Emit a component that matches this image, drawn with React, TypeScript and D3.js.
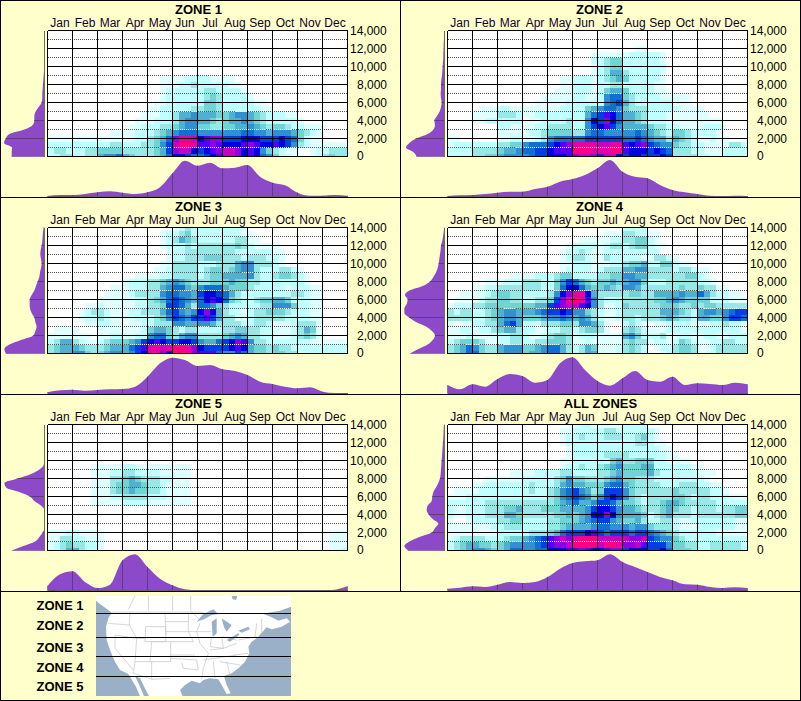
import React from "react";
import * as d3 from "d3";

const months = ["Jan","Feb","Mar","Apr","May","Jun","Jul","Aug","Sep","Oct","Nov","Dec"];
const elevationTicks = [0,2000,4000,6000,8000,10000,12000,14000];
const dottedTicks = [1000,3000,5000,7000,9000,11000,13000];
const zoneNames = ["ZONE 1","ZONE 2","ZONE 3","ZONE 4","ZONE 5"];
const levelColors = ["#ffffff","#e0ffff","#bfffff","#98e8e8","#70d4d4","#50b0d0","#3090d0","#1070d0","#0040e0","#0000e0","#5000f0","#9000e0","#c800c0","#e800a0","#ff0080"];
const E = "";

// Rows run from the top of the plot (14,000) to the bottom (0); 4 cells per month.
const heat1 = [E,E,E,E,E,E,E,E,
"0000 0000 0000 0000 0011 1122 2211 1100 0000 0000 0000 0000",
"0000 0000 0000 0000 0011 1223 2222 2110 0000 0000 0000 0000",
"0000 0000 0000 0000 0012 2222 2332 2221 0000 0000 0000 0000",
"0000 0000 0000 0000 0012 2222 2343 2222 1000 0000 0000 0000",
"0000 0000 0000 0000 0112 2222 2443 2222 2110 0000 0000 0000",
"0000 0000 0000 0000 1122 2223 3443 2222 2211 0000 0000 0000",
"0000 0000 0000 0001 1122 3556 5554 4566 5432 2211 0000 0000",
"0000 0000 0000 0011 1222 3566 5543 4556 5432 2222 1000 0000",
"0000 0000 0000 0112 2233 4566 4433 4455 6543 4432 2111 0000",
"0000 0000 0011 1122 2345 6777 6666 6667 7665 6665 4321 0000",
"1111 1111 1111 1122 3457 bddc 9abb 8889 9988 8987 4211 0000",
"2222 2222 2233 2223 3468 ceed aaba 999a ba99 a986 3211 1111",
"2332 2233 4444 3333 3458 bcc9 89ab ccb9 a964 3211 0012 2333",
"2233 2233 5667 5433 3457 9987 789a ccb9 a976 4221 0012 3433"];

const heat2 = [E,E,E,
"0000 0000 0000 0000 0000 0000 0000 0011 0000 0000 0000 0000",
"0000 0000 0000 0000 0000 0001 1111 1222 2210 0000 0000 0000",
"0000 0000 0000 0000 0000 0002 2344 2222 2210 0000 0000 0000",
"0000 0000 0000 0000 0000 0001 2344 2222 2220 0000 0000 0000",
"0000 0000 0000 0000 0000 0001 2355 3222 2210 0000 0000 0000",
"0000 0000 0000 0000 0011 2221 2345 4222 2210 0000 0000 0000",
"0000 0000 0000 0000 0011 2221 2233 2222 2110 0000 0000 0000",
"0000 0000 0000 0000 0111 2221 2455 4222 2110 0000 0000 0000",
"0000 0000 0000 0001 1111 2211 2677 4322 2211 1110 0000 0000",
"0000 0000 0000 0011 1112 2222 2678 5322 2222 1110 0000 0000",
"0000 0111 2211 1111 1122 2245 6776 4333 2222 2111 1000 0000",
"0000 1111 3332 1122 2222 2257 8a97 5543 2221 1111 1100 0000",
"0000 1122 2222 0112 2223 2269 8b97 5543 2221 1111 1111 0000",
"0000 0000 2211 1122 3333 2268 9a86 5555 4332 2111 1222 0000",
"0000 0000 1111 1223 4444 3367 7666 6676 5432 4432 2221 0000",
"1100 0000 1122 1123 6777 7788 8888 7787 6553 5432 1121 1000",
"1222 2222 3344 6777 89ab dddd ccdd a9ab 8766 4332 2111 1332",
"2222 3333 4556 7788 9aaa eeed ddee a999 8987 3332 2111 2222",
"2222 3344 5666 6788 999a bccb acc9 8998 8898 3333 2211 2222"];

const heat3 = [
"0000 0000 0000 0000 0000 1232 2222 2221 0000 0000 0000 0000",
"0000 0000 0000 0000 0012 2342 2222 2221 1000 0000 0000 0000",
"0000 0000 0000 0000 0012 3543 2222 2233 1100 0000 0000 0000",
"0000 0000 0000 0000 0012 2232 3333 3343 2111 1000 0000 0000",
"0000 0000 0000 0000 0001 2233 3333 3322 2222 1100 0000 0000",
"0000 0000 0000 0000 0001 2233 3444 3332 3332 2100 0000 0000",
"0000 0000 0000 0000 0011 3333 2223 3356 6333 2100 0000 0000",
"0000 0000 0000 0000 0112 3333 2344 3456 6322 2332 1000 0000",
"0000 0000 0000 0011 1122 3333 2344 5555 6322 3443 2100 0000",
"0000 0000 0000 1222 3345 6543 3344 4544 3322 2222 2100 0000",
"0000 0000 0011 1222 3356 7754 6777 5444 3222 2212 2211 0000",
"0000 0000 0111 1233 3367 7665 8998 7532 2222 2223 3211 0000",
"0000 0000 1111 1122 3457 8765 79a9 7432 2344 5542 2211 0000",
"0000 0011 2111 1122 3348 8753 7764 3222 2233 6664 2211 0000",
"0000 0123 3211 1223 3357 8656 9b95 3221 2334 4432 2211 0000",
"0000 0122 3211 1122 2346 8768 8a85 3311 2333 3322 2211 0000",
"0000 0011 2211 0112 2333 6655 6653 3332 2332 1112 3331 0000",
"0111 1000 1111 1112 4554 3233 2222 3344 3322 1112 3541 0000",
"1111 1110 1122 1122 6774 3566 3333 4565 3322 1112 3431 0000",
"2355 3211 2344 4568 9a98 8998 6557 89ba 6332 2222 2211 1111",
"3455 5433 3455 578a ddcd eedb 9888 89a9 5443 4332 2222 2222",
"3455 6643 4566 5689 ddb9 eeeb aaa7 6687 5443 4433 1222 2222"];

const heat4 = [
"0000 0000 0000 0000 0000 0000 0000 2222 0000 0000 0000 0000",
"0000 0000 0000 0000 0000 0000 0111 3322 1100 0000 0000 0000",
"0000 0000 0000 0000 0000 0111 1122 3344 2100 0000 0000 0000",
"0000 0000 0000 0000 0001 2222 1233 2344 2110 0000 0000 0000",
"0000 0000 0000 0000 0012 2321 1222 2222 2200 0000 0000 0000",
"0000 0000 0000 0000 0012 3321 1322 2221 1332 1000 0000 0000",
"0000 0000 0000 0000 0011 2221 1122 3445 2244 2110 0000 0000",
"0000 0000 0000 0000 0012 2221 2333 5566 3333 2332 1100 0000",
"0000 0000 0011 1122 2344 2222 3344 6655 3333 3344 2100 0000",
"0000 0011 1222 3332 2468 7543 4454 5664 2223 3333 2210 0000",
"0000 1122 3333 3332 2479 9754 4543 6653 3333 3433 4331 1000",
"0011 1123 4433 2222 369b dd95 3333 3443 3555 5655 7532 2110",
"0111 1233 4433 2233 48bd eda6 3222 3333 3445 6544 4422 2111",
"1222 3344 4444 4455 8abc ca96 3112 4333 3344 4334 3443 3333",
"3233 2234 5665 5567 8898 6643 2112 3333 3355 5432 5665 6788",
"3333 2234 5665 4445 6676 5653 2112 3323 3345 4332 5544 6887",
"1011 2233 5785 2213 3344 3665 3100 2321 0112 2221 1122 3221",
"1122 1223 4553 2211 2233 2344 3100 3432 1112 2222 2222 2221",
"1112 1111 2233 2112 3443 1222 1111 5642 2231 1221 1221 1222",
"2344 4311 2233 2233 4443 1121 1111 3433 1221 2432 1122 3322",
"3457 6433 5666 4456 7753 2354 1112 3432 0122 3443 1123 3333",
"3457 7433 5666 4556 7753 2355 1112 3432 0012 3443 1123 3333"];

const heat5 = [E,E,E,E,E,E,E,
"0000 0001 1111 2211 1111 1110 0000 0000 0000 0000 0000 0000",
"0000 0001 1122 3322 2211 1110 0000 0000 0000 0000 0000 0000",
"0000 0001 1133 4543 3322 1110 0000 0000 0000 0000 0000 0000",
"0000 0001 1134 4554 3321 1110 0000 0000 0000 0000 0000 0000",
"0000 0001 1134 4544 3321 1110 0000 0000 0000 0000 0000 0000",
"0000 0001 1122 3333 2221 1110 0000 0000 0000 0000 0000 0000",
"0000 0001 1111 2222 1111 1110 0000 0000 0000 0000 0000 0000",
E,E,E,E,
"1112 2111 1000 0000 0000 0000 0000 0000 0000 0000 0000 0111",
"1133 2211 1000 0000 0000 0000 0000 0000 0000 0000 0000 0111",
"1234 3322 1000 0000 0000 0000 0000 0000 0000 0000 0000 0111",
"1235 5322 1000 0000 0000 0000 0000 0000 0000 0000 0000 0112"];

const heatAll = [
"0000 0000 0000 0000 0000 1221 1111 2222 0000 0000 0000 0000",
"0000 0000 0000 0000 0011 2222 2332 2222 2100 0000 0000 0000",
"0000 0000 0000 0000 0012 2322 2333 2234 2100 0000 0000 0000",
"0000 0000 0000 0000 0012 2222 2222 2233 2110 0000 0000 0000",
"0000 0000 0000 0000 0001 2222 2222 2222 2211 0000 0000 0000",
"0000 0000 0000 0000 0001 2222 2333 3222 2221 1000 0000 0000",
"0000 0000 0000 0000 0011 2222 2245 3344 4221 1110 0000 0000",
"0000 0000 0000 0000 0012 2322 3456 4445 5222 2221 1000 0000",
"0000 0000 0011 1122 2233 2222 3345 4444 5322 2222 1110 0000",
"0000 0011 1111 2222 2346 4433 3456 4433 3222 2222 2100 0000",
"0000 1122 2222 2322 2356 5544 4677 5433 3322 2333 2211 0000",
"0111 1222 2222 2322 3467 8653 4888 6433 3333 4333 3322 1000",
"1112 2222 2222 2222 3467 8764 6898 6432 3333 4432 3322 2111",
"2222 2233 3333 3333 3456 7556 8875 4432 3345 5433 3332 2222",
"2112 2233 3445 3334 4455 5568 9986 5543 3345 4332 3332 3344",
"2112 2233 3554 3333 3445 4569 9b96 5554 2345 3332 3333 3344",
"1001 2222 3344 2222 3344 4567 8865 4453 2233 2112 2222 2211",
"1111 1112 2333 2222 3345 5556 7766 6566 4333 2111 2222 2211",
"1111 1111 2222 2333 4578 889a 8788 8788 7654 3222 2221 1111",
"1233 3322 2344 5678 abcb deee cccc cbbc 8766 4322 2222 2222",
"2345 5443 4566 6678 abbc eeee ceed bbca 8886 4433 2233 3332",
"2345 6654 4577 6677 999a aba9 9abb 8999 8897 4443 2233 3332"];

// Monthly margin: relative frequency at each half month, Jan 1 to Dec 31.
const month1 = [2,5,5,8,13,16,12,8,13,28,70,108,93,102,85,87,95,60,42,34,12,3,3,5,3];
const month2 = [2,4,5,8,12,15,15,23,30,45,53,65,85,110,75,60,55,35,20,13,8,3,2,3,2];
const month3 = [4,10,12,9,11,13,14,21,51,91,108,101,83,86,73,68,56,36,29,21,16,19,6,2,2];
const month4 = [26,13,28,21,44,59,53,33,41,91,109,71,38,24,46,68,41,36,51,26,31,29,26,33,28];
const month5 = [14,49,58,26,8,18,91,109,71,36,16,4,1,0,0,0,0,0,0,0,0,0,1,3,13];
const monthAll = [6,9,13,11,18,26,23,26,41,66,83,88,91,109,86,71,56,41,31,19,18,11,8,10,8];

// Elevation margin: relative frequency at each 500 units from 0 to 14,000.
const elev1 = [98,98,97,121,116,105,60,35,30,30,26,17,8,6,6,5,4,3,2,1,0,0,0,0,0,0,0,0,0];
const elev2 = [83,93,115,105,85,50,33,28,30,22,14,10,8,10,11,10,10,9,7,6,5,4,3,3,2,2,1,1,0];
const elev3 = [115,120,105,70,33,27,23,27,30,38,43,44,44,38,30,25,20,15,13,10,8,10,12,11,8,6,5,4,2];
const elev4 = [103,78,50,35,28,37,55,85,105,120,120,113,110,118,105,65,43,33,25,20,17,15,13,11,10,6,4,2,1];
const elev5 = [98,63,28,15,5,0,0,0,0,0,10,30,43,75,115,120,80,40,15,2,0,0,0,0,0,0,0,0,0];
const elevAll = [108,120,105,75,38,28,18,35,47,53,50,38,36,33,25,18,13,11,10,9,8,7,6,5,4,3,2.5,2,1];

const panelTitles = ["ZONE 1","ZONE 2","ZONE 3","ZONE 4","ZONE 5","ALL ZONES"];
const panelHeat = [heat1,heat2,heat3,heat4,heat5,heatAll];
const panelMonth = [month1,month2,month3,month4,month5,monthAll];
const panelElev = [elev1,elev2,elev3,elev4,elev5,elevAll];

// Locator map outline in map pixels (3 per screen pixel).
const mapLand: [number,number][] = [[288,18],[873,18],[873,50],[840,62],[805,68],[790,72],[815,82],[835,92],[860,85],[870,95],[845,110],[815,118],[800,112],[785,128],[770,145],[755,155],[745,170],[748,190],[735,215],[715,235],[695,250],[672,258],[680,285],[692,310],[680,312],[665,285],[655,268],[630,265],[610,270],[600,280],[575,272],[555,285],[540,300],[548,318],[420,318],[408,290],[385,252],[360,240],[345,215],[330,180],[320,150],[318,110],[325,85],[335,68],[318,55],[300,42],[288,32]];
const mapWaters: [number,number][][] = [
[[405,258],[420,265],[440,305],[447,318],[432,318],[418,285]],
[[590,95],[610,72],[640,58],[655,72],[635,75],[612,88]],
[[635,95],[650,85],[650,130],[638,140]],
[[665,85],[695,105],[680,125],[672,112]],
[[680,150],[715,130],[718,134],[690,155]],
[[715,122],[745,110],[750,118],[725,128]],
[[695,18],[712,18],[708,30],[698,28]]];
const mapBorders: [number,number][][] = [
[[335,66],[600,66],[625,72]],[[405,18],[385,58]],[[445,18],[445,62]],[[518,18],[518,62]],[[572,18],[572,62],[600,90]],
[[495,66],[498,135]],[[437,110],[497,110],[497,155],[435,155],[437,110]],[[455,155],[512,155],[512,215],[450,215],[455,155]],
[[410,145],[437,145]],[[450,215],[405,215],[410,145]],[[345,135],[410,145]],[[325,100],[388,105],[390,66]],[[388,105],[410,145]],
[[345,135],[345,175],[400,240]],[[405,215],[400,250],[455,268]],[[455,215],[455,268],[510,265]],
[[497,95],[565,95]],[[497,125],[565,125],[580,155],[512,155]],[[512,195],[585,195]],[[512,205],[590,210],[595,240],[550,235],[545,218]],
[[565,66],[565,125]],[[565,125],[635,125]],[[600,100],[590,125],[600,160],[625,190],[610,235],[605,268]],
[[635,140],[630,170],[670,175],[665,140],[710,150]],[[630,180],[670,175],[710,160]],[[610,210],[710,195]],[[700,195],[745,190]],[[660,215],[720,225]],
[[640,215],[645,265]],[[680,215],[690,255]],[[715,150],[770,140]],[[770,100],[765,140]],[[785,85],[785,130]]];
const mapZoneLines = [70,142,199,259];
const mapZoneLabelY = [605,625,647,667,686];

const FONT = '"Liberation Sans", Arial, sans-serif';
const BG = "#ffffcc";
const PURPLE = "#8c4ac8";
const MARK = "#5c3c80";

const xScale = d3.scaleLinear().domain([0,12]).range([47.5,347.5]);
const yScale = d3.scaleLinear().domain([0,14000]).range([156.5,30.5]);
const rowStep = 14000/21;
const bottomY = d3.scaleLinear().domain([0,110]).range([196.7,160]);
const leftX = d3.scaleLinear().domain([0,121]).range([44.3,4]);

const parseRows = (rows: string[]) => rows.map(r => r.replace(/ /g,"").padEnd(48,"0").split("").map(c => parseInt(c,16)));

function Panel({index}: {index:number}) {
  const col = index % 2, row = Math.floor(index/2);
  const grid = parseRows(panelHeat[index]);
  const id = `p${index}`;
  const areaBottom = d3.area<number>().x((_,i)=>xScale(i/2)).y0(bottomY(0)).y1(d=>bottomY(d)).curve(d3.curveMonotoneX)(panelMonth[index])!;
  const areaLeft = d3.area<number>().y((_,i)=>yScale(i*500)).x0(leftX(0)).x1(d=>leftX(d)).curve(d3.curveMonotoneY)(panelElev[index])!;
  const cols = d3.range(48);
  const levelAt = (k:number,c:number) => grid[21-k]?.[c] ?? 0;
  const dotted: {x1:number;x2:number;y:number;c:string}[] = [];
  dottedTicks.forEach(v => {
    const kLow = Math.floor(v/rowStep), y = yScale(v);
    let start = 0;
    const stroke = (c:number) => Math.max(levelAt(kLow,c),levelAt(kLow+1,c)) >= 6 ? "#ffffff" : "#5a5a5a";
    for (let c=1;c<=48;c++) {
      if (c===48 || stroke(c)!==stroke(start)) {
        let x1 = Math.round(xScale(start/4)); if (x1%2) x1+=1;
        dotted.push({x1,x2:Math.round(xScale(c/4)),y:Math.floor(y)+0.5,c:stroke(start)});
        start = c;
      }
    }
  });
  return (
    <g transform={`translate(${col*400},${row*197})`}>
      <defs>
        <clipPath id={`${id}-plot`}><rect x={47.5} y={30.5} width={300} height={126}/></clipPath>
        <clipPath id={`${id}-bottom`}><path d={areaBottom}/></clipPath>
        <clipPath id={`${id}-left`}><path d={areaLeft}/></clipPath>
      </defs>
      <text x={col===0?198.5:199.5+(index===5?1:0)} y={14} textAnchor="middle" fontSize={13} fontWeight="bold" fill="#000">{panelTitles[index]}</text>
      {months.map((m,i)=><text key={m} x={xScale(i+0.5)} y={27} textAnchor="middle" fontSize={12} fill="#100020">{m}</text>)}
      <rect x={47.5} y={30.5} width={300} height={126} fill="#fff"/>
      <g clipPath={`url(#${id}-plot)`} shapeRendering="crispEdges">
        {grid.map((cells,r)=>cells.map((lv,c)=> lv===0 ? null :
          <rect key={`${r}-${c}`} x={xScale(c/4)} width={xScale(1/4)-xScale(0)} y={yScale((21-r)*rowStep)-3} height={6} fill={levelColors[lv]}/>))}
      </g>
      <g shapeRendering="crispEdges">
        {dotted.map((d,i)=><line key={i} x1={d.x1} x2={d.x2} y1={d.y} y2={d.y} stroke={d.c} strokeDasharray="1 1"/>)}
        {elevationTicks.map(v=><line key={v} x1={47.5} x2={347.5} y1={yScale(v)} y2={yScale(v)} stroke="#000"/>)}
        {d3.range(13).map(i=><line key={i} x1={xScale(i)} x2={xScale(i)} y1={30.5} y2={156.5} stroke="#000"/>)}
      </g>
      {elevationTicks.map(v=><text key={v} x={v>=10000?350:357} y={yScale(v)+(v===0?3.5:4.5)} fontSize={12} fill="#000">{d3.format(",")(v)}</text>)}
      <path d={areaBottom} fill={PURPLE}/>
      <g clipPath={`url(#${id}-bottom)`} shapeRendering="crispEdges">
        {d3.range(13).map(i=><line key={i} x1={xScale(i)} x2={xScale(i)} y1={158} y2={197} stroke={MARK}/>)}
      </g>
      <line x1={47.5} x2={347.5} y1={196.5} y2={196.5} stroke="#6a5a78" shapeRendering="crispEdges"/>
      <path d={areaLeft} fill={PURPLE}/>
      <g clipPath={`url(#${id}-left)`} shapeRendering="crispEdges">
        {elevationTicks.map(v=><line key={v} x1={2} x2={45} y1={yScale(v)} y2={yScale(v)} stroke={MARK}/>)}
      </g>
      <line x1={44.5} x2={44.5} y1={31} y2={157} stroke="#6e6e60" shapeRendering="crispEdges"/>
    </g>
  );
}

function LocatorMap() {
  const mx = d3.scaleLinear().domain([288,873]).range([96,291]);
  const my = d3.scaleLinear().domain([18,318]).range([596,696]);
  const line = d3.line<[number,number]>().x(d=>mx(d[0])).y(d=>my(d[1]));
  return (
    <g>
      <rect x={96} y={596} width={195} height={100} fill="#9ab0c8"/>
      <path d={line(mapLand)+"Z"} fill="#fff"/>
      {mapBorders.map((b,i)=><path key={i} d={line(b)!} fill="none" stroke="#cccccc" strokeWidth={0.8}/>)}
      {mapWaters.map((w,i)=><path key={i} d={line(w)+"Z"} fill="#9ab0c8"/>)}
      {mapZoneLines.map(v=><line key={v} x1={96} x2={291} y1={Math.floor(my(v))+0.5} y2={Math.floor(my(v))+0.5} stroke="#000" shapeRendering="crispEdges"/>)}
      {zoneNames.map((z,i)=><text key={z} x={83.5} y={mapZoneLabelY[i]+4.5} textAnchor="end" fontSize={13} fontWeight="bold" fill="#000">{z}</text>)}
    </g>
  );
}

export default function App() {
  return (
    <svg width={801} height={701} viewBox="0 0 801 701" style={{position:"absolute",left:0,top:0,display:"block"}} fontFamily={FONT}>
      <rect x={0} y={0} width={801} height={701} fill={BG}/>
      {d3.range(6).map(i=><Panel key={i} index={i}/>)}
      <LocatorMap/>
      <g stroke="#000" shapeRendering="crispEdges">
        <rect x={0.5} y={0.5} width={800} height={700} fill="none"/>
        <line x1={400.5} x2={400.5} y1={0} y2={591}/>
        <line x1={0} x2={801} y1={197.5} y2={197.5}/>
        <line x1={0} x2={801} y1={394.5} y2={394.5}/>
        <line x1={0} x2={801} y1={591.5} y2={591.5}/>
      </g>
    </svg>
  );
}
